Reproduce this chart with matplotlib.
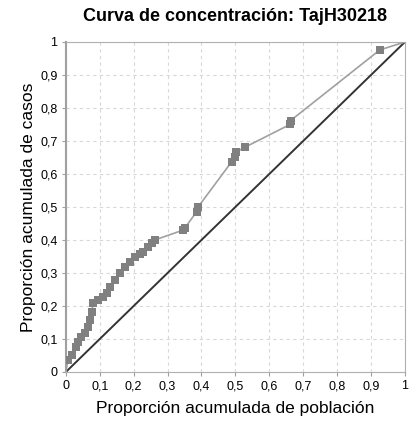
import matplotlib
matplotlib.use('Agg')
import matplotlib.pyplot as plt
from matplotlib.ticker import FuncFormatter

# cumulative proportion of population vs cumulative proportion of cases
pob = [0.0, 0.006, 0.017, 0.030, 0.036, 0.046, 0.056, 0.065, 0.071, 0.076, 0.081,
       0.095, 0.110, 0.120, 0.130, 0.145, 0.160, 0.174, 0.189, 0.204, 0.218,
       0.228, 0.243, 0.253, 0.262, 0.346, 0.350, 0.386, 0.390, 0.489, 0.499,
       0.503, 0.528, 0.661, 0.663, 0.926, 1.0]
casos = [0.0, 0.036, 0.050, 0.077, 0.092, 0.107, 0.118, 0.137, 0.158, 0.183, 0.208,
         0.218, 0.228, 0.238, 0.258, 0.280, 0.300, 0.319, 0.334, 0.349, 0.359,
         0.364, 0.380, 0.390, 0.400, 0.430, 0.435, 0.486, 0.500, 0.637, 0.652,
         0.667, 0.681, 0.750, 0.762, 0.976, 1.0]
ticks = [0, 0.1, 0.2, 0.3, 0.4, 0.5, 0.6, 0.7, 0.8, 0.9, 1]

plt.rcParams['font.family'] = ['Liberation Sans', 'DejaVu Sans']

fig = plt.figure(figsize=(4.09, 4.22), dpi=100)
ax = fig.add_axes([0.161, 0.1185, 0.829, 0.782])

ax.plot([0, 1], [0, 1], color='#333333', lw=1.4, zorder=2)
ax.plot(pob, casos, color='#a0a0a0', lw=1.2, zorder=3)
ax.plot(pob[1:-1], casos[1:-1], 's', color='#808080', ms=5.5, mew=0, zorder=4)

ax.set_xlim(0, 1)
ax.set_ylim(0, 1)
ax.set_xticks(ticks)
ax.set_yticks(ticks)
fmt = FuncFormatter(lambda v, p: ('%g' % round(v, 1)).replace('.', ','))
ax.xaxis.set_major_formatter(fmt)
ax.yaxis.set_major_formatter(fmt)
ax.tick_params(labelsize=9, length=3, color='#a0a0a0', pad=3)
ax.grid(True, color='#d8d8d8', ls=(0, (3, 3)), lw=0.8)
ax.set_axisbelow(True)
for s in ax.spines.values():
    s.set_color('#b0b0b0')
    s.set_linewidth(0.8)
ax.spines['left'].set_linewidth(1.5)
ax.spines['left'].set_color('#a0a0a0')

ax.set_xlabel('Proporción acumulada de población', fontsize=12.5, labelpad=6)
ax.set_ylabel('Proporción acumulada de casos', fontsize=12.5, labelpad=3)
ax.set_title('Curva de concentración: TajH30218', fontsize=13, fontweight='bold', pad=15)

fig.savefig('out.png', dpi=100)
